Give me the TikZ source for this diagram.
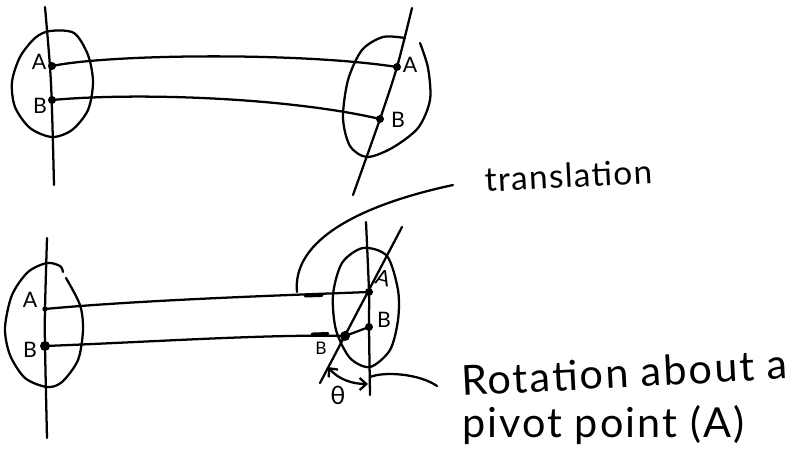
\documentclass[tikz,border=0pt]{standalone}
\usepackage{fontspec}
\setmainfont{Lato}
\usetikzlibrary{arrows.meta}
\begin{document}
\begin{tikzpicture}[x=0.75pt,y=-0.75pt,
  pen/.style={line width=1.7pt,line cap=round,line join=round},
  dot/.style={circle,fill,inner sep=0pt,minimum size=6pt},
  smalldot/.style={circle,fill,inner sep=0pt,minimum size=4pt},
  bigdot/.style={circle,fill,inner sep=0pt,minimum size=7.5pt},
  lbl/.style={font=\fontsize{16}{16}\selectfont,inner sep=0pt},
  note/.style={font=\fontsize{31}{31}\selectfont\addfontfeatures{LetterSpace=5},inner sep=0pt,anchor=base west},
  anglearrows/.style={{Straight Barb[length=5pt,width=9pt]}-{Straight Barb[length=5pt,width=9pt]}}]
\useasboundingbox (0,0) rectangle (799,457);

% ---- upper pair: body before and after the move ----
% left body
\draw[pen] plot[smooth,tension=0.6] coordinates {(45,7)(50,67)(52,110)(54,185)};
\draw[pen] plot[smooth cycle] coordinates {(50,31)(74,33)(88,55)(93,82)(88,110)(72,130)(52,137)(30,128)(15,107)(12,82)(20,57)(35,38)};
\node[dot] (A1) at (52,66) {};
\node[dot] (B1) at (52,100) {};
\node[lbl] (la1) at (39,62) {A};
\node[lbl] (lb1) at (40,106) {B};

% right body
\draw[pen] plot[smooth,tension=0.5] coordinates {(412,8)(397,67)(380,119)(353,195)};
\draw[pen] plot[smooth] coordinates {(405,38)(383,37)(362,50)(348,80)(343,118)(350,146)(367,157)(392,148)(418,128)(430,100)(428,68)(420,43)};
\node[dot] (A2) at (397,67) {};
\node[dot] (B2) at (380,119) {};
\node[lbl] (la2) at (410,65) {A};
\node[lbl] (lb2) at (398,120) {B};

% paths of the two points
\draw[pen] (A1.center) .. controls (110,54) and (300,52) .. (A2.center);
\draw[pen] (B1.center) .. controls (140,92) and (290,98) .. (B2.center);

% ---- lower pair: translation followed by rotation ----
% left body
\draw[pen] plot[smooth,tension=0.5] coordinates {(47,238)(45,309)(45,346)(47,438)};
\draw[pen] plot[smooth] coordinates {(66,278)(80,305)(83,330)(78,360)(62,382)(47,387)(25,378)(10,355)(5,328)(12,295)(28,272)(47,263)(60,266)(63,272)};
\node[smalldot] (A3) at (45,309) {};
\node[bigdot] (B3) at (45,346) {};
\node[lbl] (la3) at (30,300) {A};
\node[lbl] (lb3) at (30,350) {B};

% right body
\draw[pen] plot[smooth cycle] coordinates {(363,248)(387,256)(398,290)(398,320)(390,350)(370,367)(350,358)(336,330)(333,295)(342,263)};
\draw[pen] plot[smooth,tension=0.5] coordinates {(366,222)(369,292)(369,327)(370,395)};
\draw[pen] (402,227) -- (320,383);
\node[dot] (A4) at (369,292) {};
\node[dot] (B4) at (369,327) {};
\node[bigdot] (B5) at (345,336) {};
\node[lbl,rotate=-15] (la4) at (383,278) {A};
\node[lbl] (lb4) at (384,320) {B};
\node[lbl,font=\fontsize{13}{13}\selectfont] (lb5) at (321,348) {B};

% paths of the two points
\draw[pen] (A3.center) .. controls (140,300) and (290,295) .. (A4.center);
\draw[pen] (B3.center) .. controls (150,342) and (270,334) .. (B5.center);
\draw[pen] (B5.center) -- (B4.center);
\draw[line width=2.2pt,line cap=round] (305,296) -- (322,295.5);
\draw[line width=2.2pt,line cap=round] (312,334) -- (328,333.5);

% rotation angle
\coordinate (th1) at (328,367);
\coordinate (th2) at (368,384);
\draw[pen,anglearrows] (th1) .. controls (338,379) and (352,384) .. (th2);
\node[font=\fontsize{19}{19}\selectfont,inner sep=0pt] (theta) at (338,395) {θ};

% ---- annotations ----
\coordinate (t0) at (297,292);
\coordinate (t1) at (453,185);
\draw[pen] (t0) .. controls (292,240) and (360,205) .. (t1);
\node[note,font=\fontsize{25}{25}\selectfont\addfontfeatures{LetterSpace=4},rotate=3] (trans) at (485,192) {translation};

\coordinate (r0) at (370,377);
\coordinate (r1) at (437,386);
\draw[pen] (r0) .. controls (385,371) and (420,374) .. (r1);
\node[note,rotate=3] (rot1) at (462,396) {Rotation about a};
\node[note] (rot2) at (462,437) {pivot point (A)};
\end{tikzpicture}
\end{document}
